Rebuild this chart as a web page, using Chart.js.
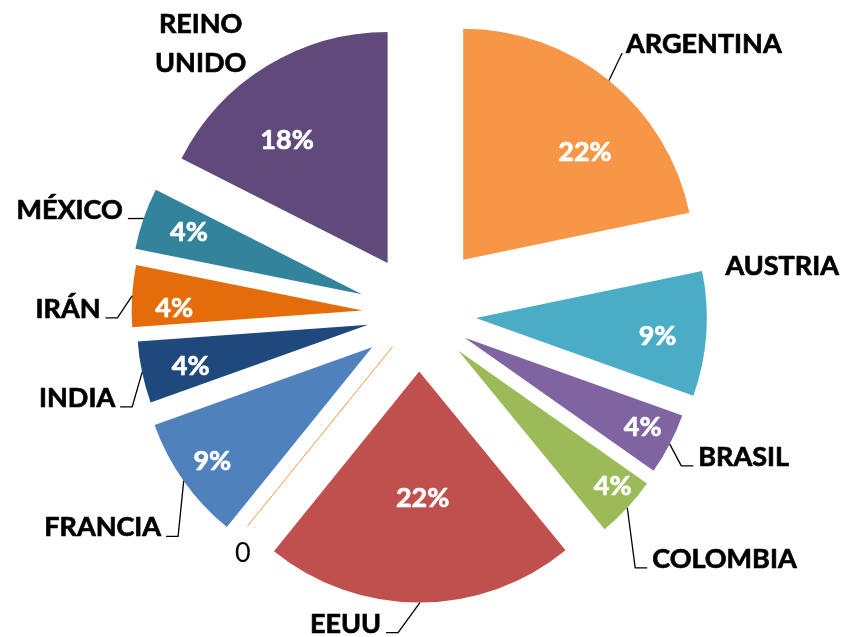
<!DOCTYPE html>
<html><head><meta charset="utf-8">
<script src="https://cdn.jsdelivr.net/npm/chart.js@4/dist/chart.umd.min.js"></script>
<style>html,body{margin:0;padding:0;background:#fff;} canvas{display:block;}</style>
</head><body>
<canvas id="c" width="844" height="637"></canvas>
<script>
// ---- data ----
const categories = ['ARGENTINA','AUSTRIA','BRASIL','COLOMBIA','EEUU','0','FRANCIA','INDIA','IRÁN','MÉXICO','REINO UNIDO'];
const shares = [21.7, 8.7, 4.3, 4.3, 21.7, 0, 8.7, 4.3, 4.3, 4.3, 17.5];

// ---- styles / layout (kept apart from data) ----
const sliceColors = ['#F79646','#4BACC6','#8064A2','#9BBB59','#C0504D','#F79646','#4F81BD','#1F497D','#E46C0A','#31849B','#604A7B'];
const explode = [70, 57, 51.5, 53.5, 57.6, 42, 57.5, 52, 56.5, 60.5, 60];
const pctPlacement = [[0.707,9.1],[0.79,1.5],[0.86,-1],[0.889,-1.7],[0.543,-1.4],null,[0.848,0],[0.788,-1.1],[0.816,-2.6],[0.797,1],[0.689,-7.6]];
const catPlacement = [[94.9,-37.3,'straight'],[75.9,-69,'none'],[73.9,12.1,'elbow'],[97.1,50.4,'elbow'],[-74.4,20.4,'elbow'],[-4.5,26.2,'none'],[-81,45.8,'elbow'],[-65,24.9,'elbow'],[-64.1,12.2,'elbow'],[-73.9,-9.7,'elbow'],[-66,-23.3,'none','wrap']];
const FONT = 'Lato, "Open Sans", sans-serif';
const FS = 27;
const CAP = 9.7;

function boldText(ctx, t, x, y, color) {
  ctx.fillStyle = color;
  ctx.strokeStyle = color;
  ctx.lineWidth = 0.7;
  ctx.lineJoin = 'round';
  ctx.fillText(t, x, y);
  ctx.strokeText(t, x, y);
}

const pieLabels = {
  id: 'pieLabels',
  beforeDatasetsDraw(chart) {
    const meta = chart.getDatasetMeta(0);
    const ca = chart.chartArea;
    const cx = (ca.left + ca.right) / 2, cy = (ca.top + ca.bottom) / 2;
    meta.data.forEach((arc, i) => {
      const mid = (arc.startAngle + arc.endAngle) / 2;
      arc.x = cx + explode[i] * Math.cos(mid);
      arc.y = cy + explode[i] * Math.sin(mid);
    });
  },
  afterDatasetsDraw(chart) {
    const ctx = chart.ctx;
    const meta = chart.getDatasetMeta(0);
    const vals = chart.data.datasets[0].data;
    const total = vals.reduce((a, b) => a + b, 0);
    ctx.save();
    meta.data.forEach((arc, i) => {
      const R = arc.outerRadius;
      const mid = (arc.startAngle + arc.endAngle) / 2;
      // zero-value slice: drawn as its edge line
      if (vals[i] === 0) {
        ctx.strokeStyle = sliceColors[i];
        ctx.lineWidth = 1;
        ctx.beginPath();
        ctx.moveTo(arc.x, arc.y);
        ctx.lineTo(arc.x + R * Math.cos(arc.startAngle), arc.y + R * Math.sin(arc.startAngle));
        ctx.stroke();
      }
      // percentage label inside
      const pp = pctPlacement[i];
      if (pp && vals[i] > 0) {
        const a = mid + pp[1] * Math.PI / 180;
        const px = arc.x + pp[0] * R * Math.cos(a);
        const py = arc.y + pp[0] * R * Math.sin(a);
        ctx.font = 'bold ' + FS + 'px ' + FONT;
        ctx.textAlign = 'center';
        ctx.textBaseline = 'alphabetic';
        boldText(ctx, Math.round(vals[i] / total * 100) + '%', px, py + CAP, '#FFFFFF');
      }
      // category label outside
      const cp = catPlacement[i];
      const ax = arc.x + R * Math.cos(mid), ay = arc.y + R * Math.sin(mid);
      const lx = ax + cp[0], ly = ay + cp[1];
      const isZero = vals[i] === 0;
      ctx.font = (isZero ? '' : 'bold ') + FS + 'px ' + FONT;
      ctx.textAlign = 'center';
      ctx.textBaseline = 'alphabetic';
      const lines = cp[3] === 'wrap' ? categories[i].split(' ') : [categories[i]];
      const lh = 38.3;
      let w = 0;
      lines.forEach((t, k) => {
        const yy = ly + (k - (lines.length - 1) / 2) * lh;
        if (isZero) { ctx.fillStyle = '#000000'; ctx.fillText(t, lx, yy + CAP); }
        else boldText(ctx, t, lx, yy + CAP, '#000000');
        w = Math.max(w, ctx.measureText(t).width);
      });
      if (cp[2] !== 'none') {
        const right = lx > ax;
        const edge = right ? lx - w / 2 : lx + w / 2;
        const s = right ? -1 : 1;
        const by = ly + CAP;
        ctx.strokeStyle = '#000000';
        ctx.lineWidth = 1.3;
        ctx.beginPath();
        if (cp[2] === 'elbow') {
          ctx.moveTo(edge + s * 5, by);
          ctx.lineTo(edge + s * 17, by);
        } else {
          ctx.moveTo(edge + s * 4, by);
        }
        ctx.lineTo(ax, ay);
        ctx.stroke();
      }
    });
    ctx.restore();
  }
};

function draw() {
  new Chart(document.getElementById('c'), {
    type: 'pie',
    data: {
      labels: categories,
      datasets: [{
        data: shares,
        backgroundColor: sliceColors,
        borderWidth: 0,
        radius: 231
      }]
    },
    options: {
      responsive: false,
      animation: false,
      layout: { padding: { left: 0, right: 6, top: 0, bottom: 9 } },
      plugins: { legend: { display: false }, tooltip: { enabled: false } }
    },
    plugins: [pieLabels]
  });
}
if (document.fonts && document.fonts.load) {
  Promise.all([document.fonts.load('bold 27px Lato'), document.fonts.load('27px Lato')]).then(draw, draw);
} else { draw(); }
</script>
</body></html>
